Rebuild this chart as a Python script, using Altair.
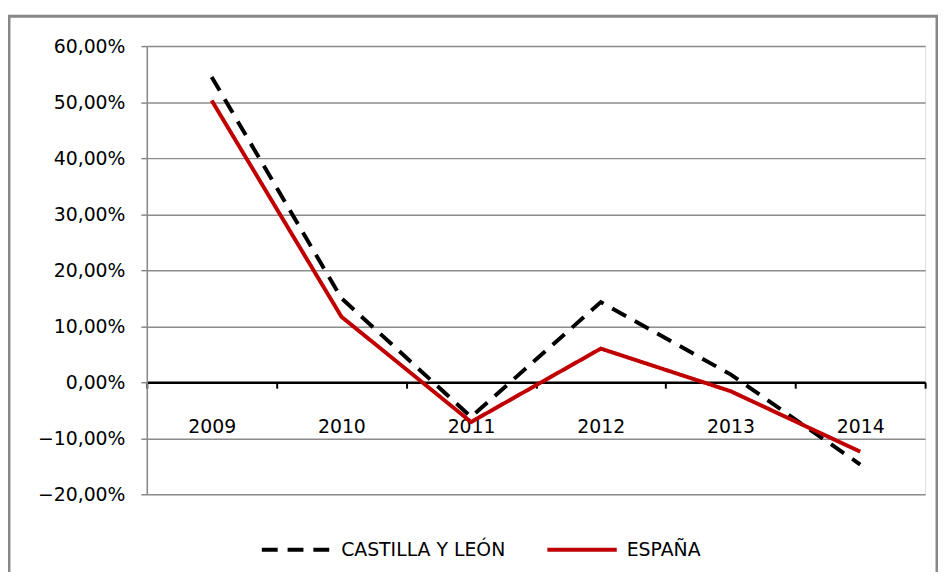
import altair as alt
import pandas as pd

years = ["2009", "2010", "2011", "2012", "2013", "2014"]
castilla = [0.545, 0.150, -0.062, 0.143, 0.014, -0.147]
espana = [0.503, 0.117, -0.071, 0.060, -0.016, -0.124]
series_names = ["CASTILLA Y LEÓN", "ESPAÑA"]
y_ticks = [-0.2, -0.1, 0.0, 0.1, 0.2, 0.3, 0.4, 0.5, 0.6]

rows = []
for i, yr in enumerate(years):
    rows.append({"year": yr, "serie": series_names[0], "value": castilla[i]})
    rows.append({"year": yr, "serie": series_names[1], "value": espana[i]})
df = pd.DataFrame(rows)

FONT = "DejaVu Sans"
W, H = 785, 452

legend_cfg = dict(title=None, orient="none", direction="horizontal",
                  legendX=114, legendY=471, symbolType="stroke",
                  symbolSize=4900, symbolStrokeWidth=4,
                  labelFont=FONT, labelFontSize=19, labelColor="black",
                  labelOffset=8, columnPadding=34, labelLimit=400)

lines = alt.Chart(df).mark_line(strokeWidth=4, strokeCap="butt").encode(
    x=alt.X("year:N", sort=years, scale=alt.Scale(paddingInner=0, paddingOuter=0),
            axis=alt.Axis(title=None, labelAngle=0, offset=-113, domainColor="black",
                          domainWidth=2.5, tickColor="black", tickWidth=2, tickSize=6,
                          tickBand="extent", labelPadding=30, labelFont=FONT,
                          labelFontSize=19, labelColor="black", grid=False)),
    y=alt.Y("value:Q", scale=alt.Scale(domain=[-0.2, 0.6], nice=False, zero=False),
            axis=alt.Axis(title=None, values=y_ticks,
                          labelExpr="replace(format(datum.value, '.2%'), '.', ',')",
                          domainColor="#888888", domainWidth=1.5, tickColor="#888888",
                          tickWidth=1.5, tickSize=6, labelPadding=16, labelFont=FONT,
                          labelFontSize=19, labelColor="black",
                          gridColor="#8c8c8c", gridWidth=1.5)),
    color=alt.Color("serie:N", sort=series_names,
                    scale=alt.Scale(domain=series_names, range=["#000000", "#C00000"]),
                    legend=alt.Legend(**legend_cfg)),
    strokeDash=alt.StrokeDash("serie:N", sort=series_names,
                              scale=alt.Scale(domain=series_names, range=[[16, 10], [1, 0]]),
                              legend=alt.Legend(**legend_cfg)),
)

border = alt.Chart(pd.DataFrame({"a": [0]})).mark_rect(
    fillOpacity=0, stroke="#888888", strokeWidth=3
).encode(
    x=alt.value(-139), x2=alt.value(W + 12), y=alt.value(-30), y2=alt.value(H + 120)
)

chart = alt.layer(border, lines).properties(
    width=W, height=H,
    autosize=alt.AutoSizeParams(type="none"),
    padding={"left": 140, "top": 36, "right": 13, "bottom": 76},
).configure_view(stroke=None).configure(background="white")

chart.save("out.html", embed_options={"renderer": "svg", "actions": False})
